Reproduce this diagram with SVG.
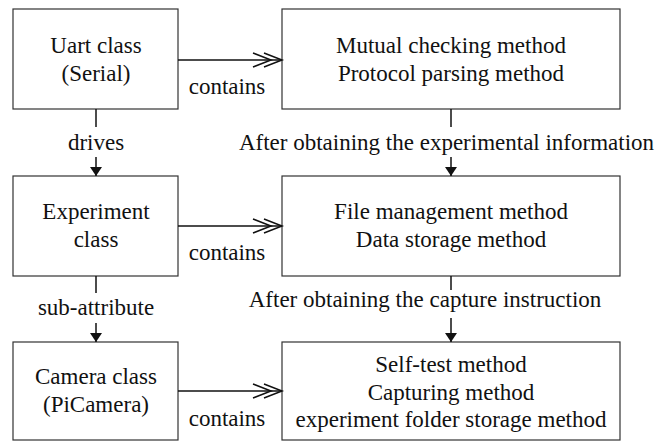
<svg xmlns="http://www.w3.org/2000/svg" width="660" height="441" viewBox="0 0 660 441">
<defs>
<style>
.box{fill:#fff;stroke:#333;stroke-width:1.2}
.t{font-family:"Liberation Serif","Times New Roman",serif;font-size:23px;fill:#111;text-anchor:middle}
.ln{stroke:#111;stroke-width:1.5;fill:none}
</style>
<marker id="dbl" markerUnits="userSpaceOnUse" markerWidth="40" markerHeight="20" viewBox="0 0 40 20" refX="32" refY="10" orient="auto">
<path d="M3,3 L21,10 L3,17 M14,3 L32,10 L14,17" fill="none" stroke="#111" stroke-width="1.5"/>
</marker>
<marker id="tri" markerUnits="userSpaceOnUse" markerWidth="9" markerHeight="12" viewBox="0 0 9 12" refX="9" refY="6" orient="auto">
<path d="M0,0 L9,6 L0,12 z" fill="#111"/>
</marker>
</defs>
<rect width="660" height="441" fill="#fff"/>
<g id="uart">
<rect class="box" x="13" y="9" width="165" height="100"/>
<text class="t" x="96" y="53">Uart class</text>
<text class="t" x="96" y="81">(Serial)</text>
</g>
<g id="methods1">
<rect class="box" x="282" y="9" width="338" height="100"/>
<text class="t" x="451" y="53">Mutual checking method</text>
<text class="t" x="451" y="81">Protocol parsing method</text>
</g>
<g id="experiment">
<rect class="box" x="13" y="176" width="165" height="100"/>
<text class="t" x="96" y="219">Experiment</text>
<text class="t" x="96" y="247">class</text>
</g>
<g id="methods2">
<rect class="box" x="282" y="176" width="338" height="100"/>
<text class="t" x="451" y="219">File management method</text>
<text class="t" x="451" y="247">Data storage method</text>
</g>
<g id="camera">
<rect class="box" x="13" y="342" width="165" height="98"/>
<text class="t" x="96" y="384">Camera class</text>
<text class="t" x="96" y="412">(PiCamera)</text>
</g>
<g id="methods3">
<rect class="box" x="282" y="342" width="338" height="98"/>
<text class="t" x="451" y="372">Self-test method</text>
<text class="t" x="451" y="400">Capturing method</text>
<text class="t" x="451" y="427">experiment folder storage method</text>
</g>
<g id="connectors">
<line class="ln" x1="178" y1="60" x2="282" y2="60" marker-end="url(#dbl)"/>
<text class="t" x="227" y="94">contains</text>
<line class="ln" x1="178" y1="226" x2="282" y2="226" marker-end="url(#dbl)"/>
<text class="t" x="227" y="260">contains</text>
<line class="ln" x1="178" y1="391" x2="282" y2="391" marker-end="url(#dbl)"/>
<text class="t" x="227" y="426">contains</text>

<line class="ln" x1="96" y1="109" x2="96" y2="127"/>
<text class="t" x="96" y="150">drives</text>
<line class="ln" x1="96" y1="157" x2="96" y2="176" marker-end="url(#tri)"/>

<line class="ln" x1="451" y1="109" x2="451" y2="127"/>
<text class="t" x="446.5" y="150">After obtaining the experimental information</text>
<line class="ln" x1="451" y1="157" x2="451" y2="176" marker-end="url(#tri)"/>

<line class="ln" x1="96" y1="276" x2="96" y2="293"/>
<text class="t" x="96" y="315">sub-attribute</text>
<line class="ln" x1="96" y1="323" x2="96" y2="342" marker-end="url(#tri)"/>

<line class="ln" x1="451" y1="276" x2="451" y2="290"/>
<text class="t" x="425" y="307">After obtaining the capture instruction</text>
<line class="ln" x1="451" y1="318" x2="451" y2="342" marker-end="url(#tri)"/>
</g>
</svg>
